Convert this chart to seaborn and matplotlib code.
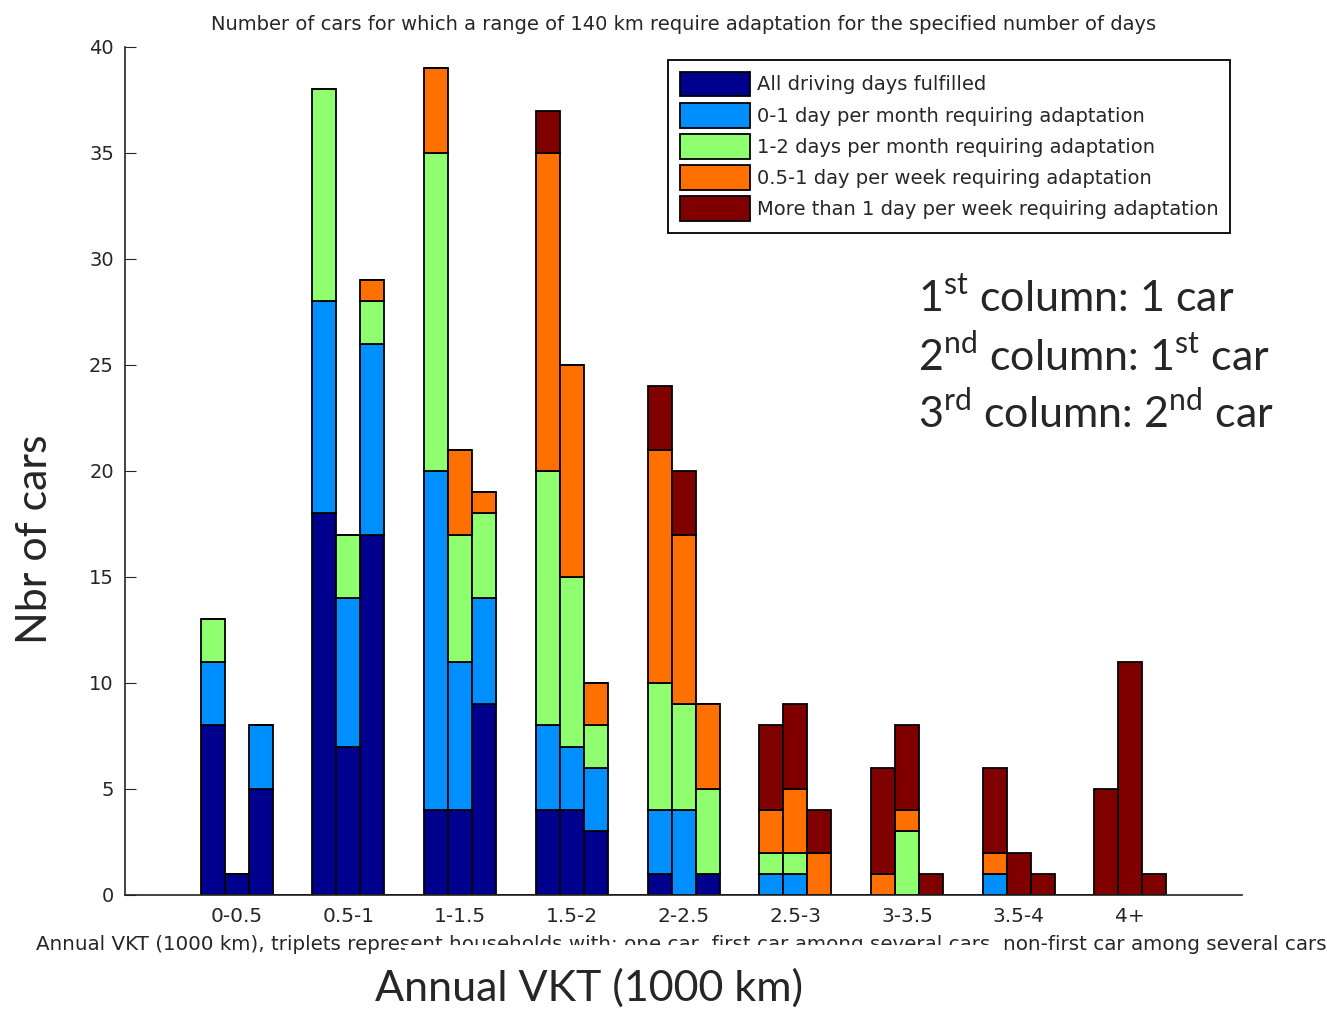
import numpy as np
import pandas as pd
import matplotlib
matplotlib.use("Agg")
import matplotlib.pyplot as plt
from matplotlib.patches import Patch, Rectangle
import seaborn as sns

groups = ["0-0.5", "0.5-1", "1-1.5", "1.5-2", "2-2.5", "2.5-3", "3-3.5", "3.5-4", "4+"]
layers = ["All driving days fulfilled",
          "0-1 day per month requiring adaptation",
          "1-2 days per month requiring adaptation",
          "0.5-1 day per week requiring adaptation",
          "More than 1 day per week requiring adaptation"]
colors = ["#00008f", "#008fff", "#8fff70", "#ff7000", "#800000"]

# one row per VKT group: [one car, first car, non-first car]
all_fulfilled = [[8, 1, 5], [18, 7, 17], [4, 4, 9], [4, 4, 3], [1, 0, 1],
                 [0, 0, 0], [0, 0, 0], [0, 0, 0], [0, 0, 0]]
month_0_1 = [[3, 0, 3], [10, 7, 9], [16, 7, 5], [4, 3, 3], [3, 4, 0],
             [1, 1, 0], [0, 0, 0], [1, 0, 0], [0, 0, 0]]
month_1_2 = [[2, 0, 0], [10, 3, 2], [15, 6, 4], [12, 8, 2], [6, 5, 4],
             [1, 1, 0], [0, 3, 0], [0, 0, 0], [0, 0, 0]]
week_05_1 = [[0, 0, 0], [0, 0, 1], [4, 4, 1], [15, 10, 2], [11, 8, 4],
             [2, 3, 2], [1, 1, 0], [1, 0, 0], [0, 0, 0]]
week_more = [[0, 0, 0], [0, 0, 0], [0, 0, 0], [2, 0, 0], [3, 3, 0],
             [4, 4, 2], [5, 4, 1], [4, 2, 1], [5, 11, 1]]

series = [all_fulfilled, month_0_1, month_1_2, week_05_1, week_more]

# long table: one row per bar segment
w = 0.215
offsets = [-w, 0, w]
rows = []
for name, vals in zip(layers, series):
    for g, triple in enumerate(vals):
        for k, v in enumerate(triple):
            rows.append({"pos": g + 1 + offsets[k], "layer": name, "count": v})
df = pd.DataFrame(rows)

edges = []
for g in range(1, len(groups) + 1):
    edges += [g - 1.5 * w, g - 0.5 * w, g + 0.5 * w, g + 1.5 * w]

sns.set_style("ticks")
plt.rcParams["font.family"] = ["DejaVu Sans"]
plt.rcParams["mathtext.fontset"] = "custom"
plt.rcParams["mathtext.rm"] = "Lato"

fig = plt.figure(figsize=(13.27, 10.10), dpi=100)
ax = fig.add_axes([0.0942, 0.1139, 0.8418, 0.8396])

sns.histplot(data=df, x="pos", weights="count", hue="layer",
             hue_order=layers[::-1], palette=dict(zip(layers, colors)),
             multiple="stack", bins=edges, edgecolor="black", linewidth=1.3,
             alpha=1, legend=False, ax=ax)

ax.set_xlim(0, 10)
ax.set_ylim(0, 40)
ax.set_yticks(range(0, 41, 5))
ax.set_xticks(range(1, len(groups) + 1))
ax.set_xticklabels(groups)
ax.tick_params(axis="y", direction="in", length=8, labelsize=14, pad=8)
ax.tick_params(axis="x", length=0, labelsize=14.5, pad=9)
ax.set_xlabel("")
ax.set_ylabel("")
sns.despine(ax=ax)
for s in ["left", "bottom"]:
    ax.spines[s].set_color("#222222")
    ax.spines[s].set_linewidth(1.2)

ax.set_title("Number of cars for which a range of 140 km require adaptation for the specified number of days",
             fontsize=14, pad=12)

handles = [Patch(facecolor=c, edgecolor="black", linewidth=1.3) for c in colors]
leg = ax.legend(handles, layers, loc="upper right",
                bbox_to_anchor=(1230 / 1327, 1 - 60 / 1010), bbox_transform=fig.transFigure,
                borderaxespad=0, fontsize=14, handlelength=3.6, handleheight=1.58,
                handletextpad=0.36, labelspacing=0.33, borderpad=0.6,
                fancybox=False, framealpha=1)
leg.get_frame().set_edgecolor("black")
leg.get_frame().set_linewidth(1.3)

for i, txt in enumerate([r"1$^{\rm st}$ column: 1 car",
                         r"2$^{\rm nd}$ column: 1$^{\rm st}$ car",
                         r"3$^{\rm rd}$ column: 2$^{\rm nd}$ car"]):
    fig.text(918 / 1327, 1 - (297 + 58 * i) / 1010, txt, family="Lato",
             fontsize=31, va="center", ha="left")

fig.text(681 / 1327, 1 - 945 / 1010,
         "Annual VKT (1000 km), triplets represent households with: one car, "
         "first car among several cars, non-first car among several cars",
         fontsize=14.3, ha="center", va="center")
fig.add_artist(Rectangle((405 / 1327, 0), 595 / 1327, 65 / 1010,
                         transform=fig.transFigure, facecolor="white",
                         edgecolor="none", zorder=5))
fig.text(589 / 1327, 1 - 988 / 1010, "Annual VKT (1000 km)", family="Lato",
         fontsize=31, ha="center", va="center", zorder=6)
fig.text(35 / 1327, 1 - 539 / 1010, "Nbr of cars", family="Lato",
         fontsize=31, ha="center", va="center", rotation=90)

fig.savefig("out.png", dpi=100)
